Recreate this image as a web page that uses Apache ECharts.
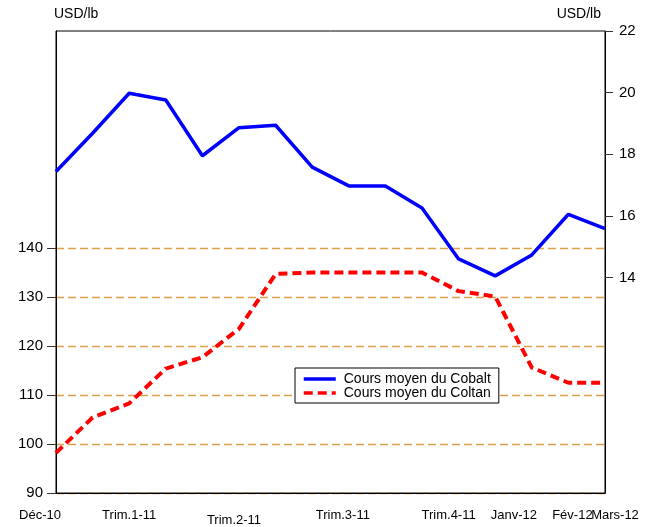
<!DOCTYPE html>
<html lang="fr">
  <head>
    <meta charset="UTF-8" />
    <title>Cours moyen du Cobalt et du Coltan</title>
    <script src="https://cdn.jsdelivr.net/npm/echarts@6/dist/echarts.min.js"></script>
  </head>
  <body style="margin: 0">
    <div id="main" style="width: 658px; height: 527px"></div>

    <script type="text/javascript">
      // monthly points, Déc-10 .. Mars-12
      const months = [
        "Déc-10", "Janv-11", "Févr-11", "Mars-11", "Avr-11", "Mai-11", "Juin-11", "Juil-11",
        "Août-11", "Sept-11", "Oct-11", "Nov-11", "Déc-11", "Janv-12", "Fév-12", "Mars-12",
      ];
      const tickLabels = [
        "Déc-10", "", "Trim.1-11", "", "", "Trim.2-11", "", "",
        "Trim.3-11", "", "", "Trim.4-11", "", "Janv-12", "Fév-12", "Mars-12",
      ];
      const cobalt = [
        17.44, 18.68, 19.98, 19.76, 17.95, 18.86, 18.94, 17.58,
        16.97, 16.97, 16.25, 14.6, 14.05, 14.73, 16.05, 15.58,
      ];
      const coltan = [
        98.2, 105.4, 108.3, 115.4, 117.7, 123.5, 134.7, 135.0,
        135.0, 135.0, 135.0, 131.2, 130.1, 115.6, 112.5, 112.5,
      ];
      const leftTicks = [90, 100, 110, 120, 130, 140];
      const rightTicks = [14, 16, 18, 20, 22];

      // small nudges so the quarter labels sit like the original
      const labelStyle = {
        "Déc-10": "a", "Trim.1-11": "b", "Trim.2-11": "c", "Trim.3-11": "d",
        "Trim.4-11": "e", "Janv-12": "f", "Fév-12": "g", "Mars-12": "h",
      };
      const base = { fontFamily: "Liberation Sans", fontSize: 13, color: "#000" };

      let myChart = echarts.init(document.getElementById("main"));

      const options = {
        animation: false,
        backgroundColor: "#fff",
        textStyle: { fontFamily: "Liberation Sans" },
        grid: {
          left: 56, right: 53, top: 31, bottom: 34,
          show: true, borderColor: "#000", borderWidth: 1,
        },
        legend: {
          orient: "vertical",
          left: 295, top: 368,
          backgroundColor: "#fff",
          borderColor: "#000", borderWidth: 1,
          padding: [4, 8, 3, 7],
          itemGap: 0,
          itemWidth: 32, itemHeight: 10,
          itemStyle: { opacity: 0 },
          lineStyle: { width: 3.5 },
          textStyle: { fontSize: 14, color: "#000", padding: [0, 0, 0, 3] },
          data: ["Cours moyen du Cobalt", "Cours moyen du Coltan"],
        },
        xAxis: {
          type: "category",
          data: months,
          boundaryGap: false,
          axisLine: { lineStyle: { color: "#000", width: 1 } },
          axisTick: { show: false },
          axisLabel: {
            interval: 0,
            margin: 16,
            formatter: (v, i) => {
              const t = tickLabels[i];
              return t ? "{" + labelStyle[t] + "|" + t + "}" : "";
            },
            rich: {
              a: { ...base, padding: [0, 32, 6, 0] },
              b: { ...base },
              c: { ...base, padding: [5, 10, 0, 0] },
              d: { ...base, padding: [0, 12, 0, 0] },
              e: { ...base, padding: [0, 20, 0, 0] },
              f: { ...base, padding: [0, 36, 0, 0] },
              g: { ...base, padding: [0, 0, 0, 8] },
              h: { ...base, padding: [0, 0, 0, 20] },
            },
          },
        },
        yAxis: [
          {
            type: "value",
            position: "left",
            min: 90,
            max: 184.29,
            name: "USD/lb",
            nameLocation: "end",
            nameGap: 10,
            nameTextStyle: { fontSize: 14, color: "#000", align: "left", padding: [0, 0, 0, -2] },
            axisLine: { show: true, lineStyle: { color: "#000" } },
            axisTick: { show: true, length: 9, customValues: leftTicks, lineStyle: { color: "#333" } },
            axisLabel: { customValues: leftTicks, fontSize: 15, color: "#000", margin: 13 },
            splitLine: {
              show: true,
              lineStyle: { color: "#DFA04A", type: [8, 4], width: 1.4 },
            },
          },
          {
            type: "value",
            position: "right",
            min: 7,
            max: 22,
            name: "USD/lb",
            nameLocation: "end",
            nameGap: 10,
            nameTextStyle: { fontSize: 14, color: "#000", align: "right", padding: [0, 4, 0, 0] },
            axisLine: { show: true, lineStyle: { color: "#000" } },
            axisTick: { show: true, length: 8, customValues: rightTicks, lineStyle: { color: "#333" } },
            axisLabel: { customValues: rightTicks, fontSize: 15, color: "#000", margin: 14 },
            splitLine: { show: false },
          },
        ],
        series: [
          {
            name: "Cours moyen du Cobalt",
            type: "line",
            yAxisIndex: 1,
            data: cobalt,
            symbol: "none",
            color: "#0000FF",
            lineStyle: { color: "#0000FF", width: 3.5 },
            z: 3,
          },
          {
            name: "Cours moyen du Coltan",
            type: "line",
            yAxisIndex: 0,
            data: coltan,
            symbol: "none",
            color: "#FF0000",
            lineStyle: { color: "#FF0000", width: 4, type: [9, 5] },
            z: 3,
          },
        ],
      };

      myChart.setOption(options);
    </script>
  </body>
</html>
